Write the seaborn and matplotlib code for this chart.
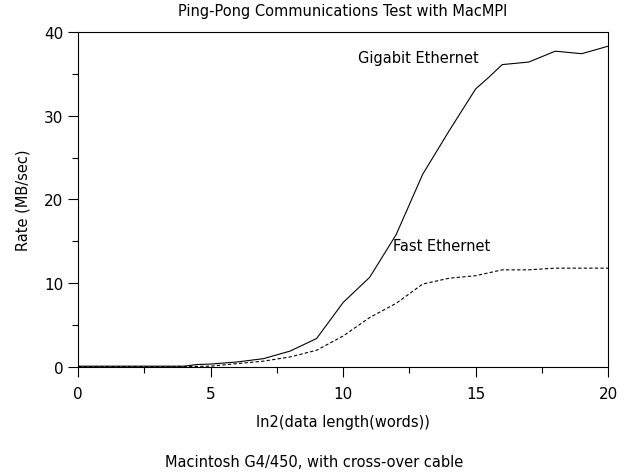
import matplotlib
matplotlib.use("Agg")
import matplotlib.pyplot as plt
import seaborn as sns
import pandas as pd
from matplotlib.ticker import MultipleLocator

# values
gig_x = [0, 1, 2, 3, 4, 4.5, 5, 6, 7, 8, 9, 10, 10.5, 11, 12, 13, 14, 15, 15.5, 16, 17, 18, 19, 20]
gig_y = [0.1, 0.1, 0.1, 0.1, 0.1, 0.3, 0.35, 0.6, 1.0, 1.9, 3.4, 7.7, 9.2, 10.7, 15.8, 23.0,
         28.2, 33.2, 34.6, 36.1, 36.4, 37.7, 37.4, 38.3]
fast_x = list(range(0, 21))
fast_y = [0.05, 0.05, 0.05, 0.05, 0.05, 0.1, 0.4, 0.7, 1.2, 2.0, 3.7, 5.9, 7.6, 9.9, 10.6,
          10.9, 11.6, 11.6, 11.8, 11.8, 11.8]

gig = pd.DataFrame({"x": gig_x, "rate": gig_y})
fast = pd.DataFrame({"x": fast_x, "rate": fast_y})

sns.set_style("ticks")
plt.rcParams["font.family"] = ["DejaVu Sans"]
plt.rcParams["text.color"] = "black"
plt.rcParams["axes.labelcolor"] = "black"
plt.rcParams["xtick.color"] = "black"
plt.rcParams["ytick.color"] = "black"

fig = plt.figure(figsize=(6.29, 4.77), dpi=100)
ax = fig.add_axes([0.124, 0.2285, 0.843, 0.7025])

sns.lineplot(data=gig, x="x", y="rate", ax=ax, color="black", linewidth=0.8)
sns.lineplot(data=fast, x="x", y="rate", ax=ax, color="black", linewidth=0.8,
             linestyle=(0, (3, 2)))

ax.set_xlim(0, 20)
ax.set_ylim(0, 40)
ax.xaxis.set_major_locator(MultipleLocator(5))
ax.xaxis.set_minor_locator(MultipleLocator(2.5))
ax.yaxis.set_major_locator(MultipleLocator(10))
ax.yaxis.set_minor_locator(MultipleLocator(5))
ax.tick_params(which="major", length=7, width=0.8, labelsize=11)
ax.tick_params(axis="x", which="major", pad=7)
ax.tick_params(which="minor", length=4, width=0.8)
for s in ax.spines.values():
    s.set_linewidth(0.8)
    s.set_color("black")

ax.text(10.55, 36.9, "Gigabit Ethernet", fontsize=10.5, va="center")
ax.text(11.9, 14.45, "Fast Ethernet", fontsize=10.5, va="center")

ax.set_title("Ping-Pong Communications Test with MacMPI", fontsize=10.5, pad=12)
ax.set_xlabel("ln2(data length(words))", fontsize=10.5, labelpad=9)
ax.set_ylabel("Rate (MB/sec)", fontsize=10.5, labelpad=10)
fig.text(0.5, 0.02, "Macintosh G4/450, with cross-over cable", ha="center", fontsize=10.5)

fig.savefig("out.png", dpi=100)
